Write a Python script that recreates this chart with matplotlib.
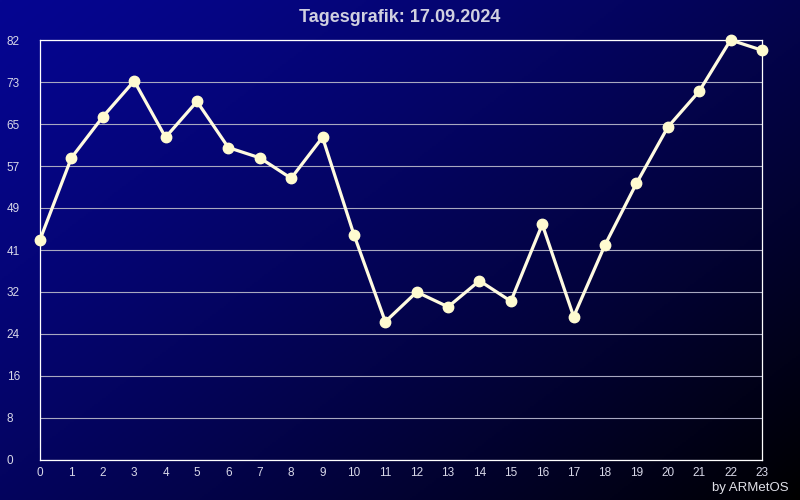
import matplotlib.pyplot as plt
import numpy as np

# Daten
stunden = list(range(24))
werte = [43, 59, 67, 74, 63, 70, 61, 59, 55, 63, 44, 27,
         32.8, 29.9, 35, 31, 46, 28, 42, 54, 65, 72, 82, 80]
y_ticks = [0, 8.2, 16.4, 24.6, 32.8, 41, 49.2, 57.4, 65.6, 73.8, 82]
y_labels = ["0", "8", "16", "24", "32", "41", "49", "57", "65", "73", "82"]
titel = "Tagesgrafik: 17.09.2024"

plt.rcParams['font.family'] = ['Liberation Sans', 'DejaVu Sans']

fig = plt.figure(figsize=(8, 5), dpi=100)

# Hintergrund mit Verlauf (blau oben links -> schwarz unten rechts)
bg = fig.add_axes([0, 0, 1, 1], zorder=0)
gx, gy = np.meshgrid(np.linspace(0, 1, 400), np.linspace(0, 1, 250))
t = np.clip(0.55 * gx + 0.45 * gy, 0, 1)
f = 1 - t ** 1.3
img = np.zeros((250, 400, 3))
img[..., 2] = f * 145 / 255
img[..., 1] = f * 6 / 255
img[..., 0] = f * 6 / 255
bg.imshow(img, aspect='auto', extent=[0, 1, 0, 1], origin='upper')
bg.axis('off')

ax = fig.add_axes([0.05, 0.08, 0.9025, 0.84], zorder=1)
ax.patch.set_alpha(0)

ax.plot(stunden, werte, color='#fffbe0', lw=2.3, marker='o', markersize=7.5,
        markerfacecolor='#fffbd0', markeredgecolor='#fffbd0', clip_on=False, zorder=3)

ax.set_xlim(0, 23)
ax.set_ylim(0, 82)
ax.set_xticks(stunden)
ax.set_yticks(y_ticks)
ax.set_yticklabels(y_labels)
for lab in ax.get_yticklabels():
    lab.set_horizontalalignment('left')
ax.tick_params(axis='y', length=0, pad=24, labelsize=8.5, labelcolor='#d8d8e8')
ax.tick_params(axis='x', length=0, pad=5, labelsize=8.5, labelcolor='#d8d8e8')
ax.grid(axis='y', color='#a8a8c0', lw=0.8)
ax.set_axisbelow(True)
for s in ax.spines.values():
    s.set_color('white')
    s.set_linewidth(0.9)

fig.text(0.5, 0.966, titel, ha='center', va='center', fontsize=13,
         fontweight='bold', color='#d0d0e0')
fig.text(0.986, 0.024, "by ARMetOS", ha='right', va='center', fontsize=9.5,
         color='#e0e0e8')

plt.savefig("out.png", dpi=100)
